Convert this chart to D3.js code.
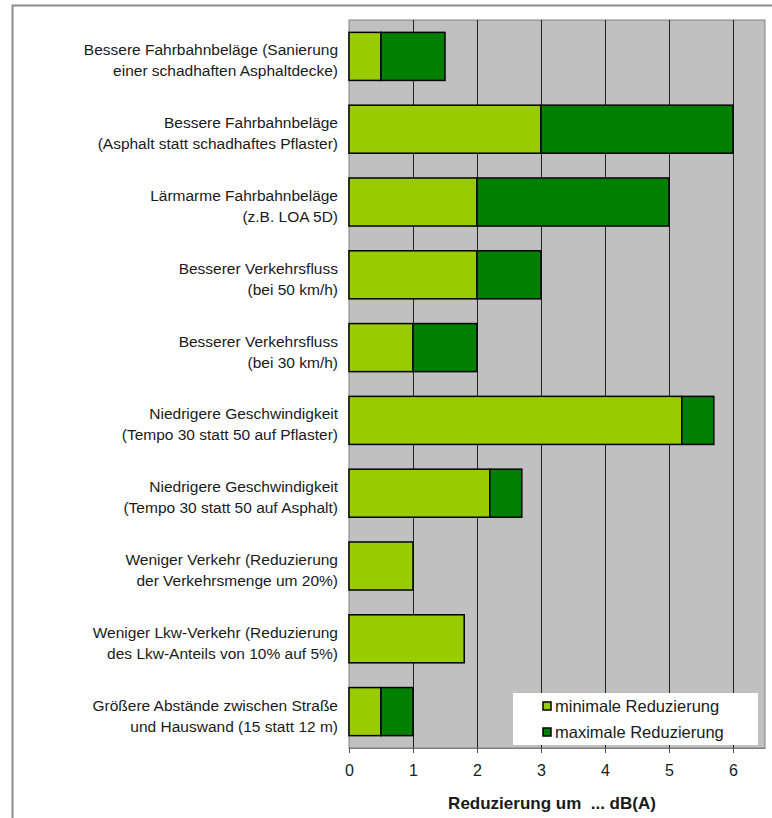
<!DOCTYPE html>
<html>
<head>
<meta charset="utf-8">
<script src="https://cdn.jsdelivr.net/npm/d3@7"></script>
<style>
  body { margin: 0; background: #fff; }
  text { font-family: "Liberation Sans", Arial, sans-serif; white-space: pre; }
</style>
</head>
<body>
<div id="chart"></div>
<script>
// category labels (two lines each)
const categories = [
    ["Bessere Fahrbahnbeläge (Sanierung", "einer schadhaften Asphaltdecke)"],
    ["Bessere Fahrbahnbeläge", "(Asphalt statt schadhaftes Pflaster)"],
    ["Lärmarme Fahrbahnbeläge", "(z.B. LOA 5D)"],
    ["Besserer Verkehrsfluss", "(bei 50 km/h)"],
    ["Besserer Verkehrsfluss", "(bei 30 km/h)"],
    ["Niedrigere Geschwindigkeit", "(Tempo 30 statt 50 auf Pflaster)"],
    ["Niedrigere Geschwindigkeit", "(Tempo 30 statt 50 auf Asphalt)"],
    ["Weniger Verkehr (Reduzierung", "der Verkehrsmenge um 20%)"],
    ["Weniger Lkw-Verkehr (Reduzierung", "des Lkw-Anteils von 10% auf 5%)"],
    ["Größere Abstände zwischen Straße", "und Hauswand (15 statt 12 m)"]
];
const minReduction = [0.5, 3, 2, 2, 1, 5.2, 2.2, 1, 1.8, 0.5];
const maxReduction = [1.5, 6, 5, 3, 2, 5.7, 2.7, 1, 1.8, 1];
const xTicks = [0, 1, 2, 3, 4, 5, 6];
const seriesNames = ["minimale Reduzierung", "maximale Reduzierung"];
const seriesColors = ["#99cc00", "#008000"];

const W = 772, H = 818;
const plot = { left: 349, right: 765, top: 20, bottom: 748 };

const svg = d3.select("#chart").append("svg")
    .attr("width", W).attr("height", H);

// outer frame
svg.append("path")
    .attr("d", `M12.5,${H} L12.5,5.5 L${W},5.5`)
    .attr("fill", "none").attr("stroke", "#8c8c8c").attr("stroke-width", 2);

const x = d3.scaleLinear().domain([0, 6.5]).range([plot.left, plot.right]);
const y = d3.scaleBand()
    .domain(d3.range(categories.length))
    .range([plot.top, plot.bottom])
    .paddingInner(0.34).paddingOuter(0.17);

// plot background
svg.append("rect")
    .attr("x", plot.left).attr("y", plot.top)
    .attr("width", plot.right - plot.left).attr("height", plot.bottom - plot.top)
    .attr("fill", "#c0c0c0").attr("stroke", "#808080");

// gridlines
svg.append("g").selectAll("line")
    .data(xTicks.slice(1))
    .join("line")
    .attr("x1", d => x(d) + 0.5).attr("x2", d => x(d) + 0.5)
    .attr("y1", plot.top).attr("y2", plot.bottom)
    .attr("stroke", "#222").attr("stroke-width", 1);

// bars
const rows = svg.append("g").selectAll("g")
    .data(categories.map((c, i) => ({ i: i, min: minReduction[i], max: maxReduction[i] })))
    .join("g");

rows.append("rect")
    .attr("x", x(0))
    .attr("y", d => y(d.i))
    .attr("width", d => x(d.min) - x(0))
    .attr("height", y.bandwidth())
    .attr("fill", seriesColors[0])
    .attr("stroke", "#000").attr("stroke-width", 1.5);

rows.filter(d => d.max > d.min).append("rect")
    .attr("x", d => x(d.min))
    .attr("y", d => y(d.i))
    .attr("width", d => x(d.max) - x(d.min))
    .attr("height", y.bandwidth())
    .attr("fill", seriesColors[1])
    .attr("stroke", "#000").attr("stroke-width", 1.5);

// category labels
const labels = svg.append("g").selectAll("text")
    .data(categories)
    .join("text")
    .attr("text-anchor", "end")
    .attr("font-size", "15.5px")
    .attr("fill", "#1a1a1a");
labels.each(function(d, i) {
    const cy = y(i) + y.bandwidth() / 2;
    d3.select(this).selectAll("tspan")
        .data(d)
        .join("tspan")
        .attr("x", 338)
        .attr("y", (t, j) => cy - 1 + j * 21)
        .text(t => t);
});

// x axis
const axis = svg.append("g")
    .attr("transform", `translate(0,${plot.bottom})`)
    .call(d3.axisBottom(x).tickValues(xTicks).tickSize(5).tickSizeOuter(0).tickFormat(d3.format("d")));
axis.select(".domain").attr("stroke", "#808080");
axis.selectAll(".tick line").attr("stroke", "#555");
axis.selectAll(".tick text")
    .attr("font-size", "16px")
    .attr("font-family", "'Liberation Sans', Arial, sans-serif")
    .attr("fill", "#1a1a1a")
    .attr("y", 28)
    .attr("dy", "0");

svg.append("text")
    .attr("x", 552).attr("y", 809)
    .attr("text-anchor", "middle")
    .attr("font-size", "17px")
    .attr("font-weight", "bold")
    .attr("fill", "#1a1a1a")
    .text("Reduzierung um  ... dB(A)");

// legend
const legend = svg.append("g").attr("transform", "translate(513,693)");
legend.append("rect")
    .attr("width", 245).attr("height", 52)
    .attr("fill", "#fff");
const items = legend.selectAll("g.item")
    .data(seriesNames)
    .join("g")
    .attr("class", "item")
    .attr("transform", (d, i) => `translate(30,${13 + i * 26})`);
items.append("rect")
    .attr("x", 0).attr("y", -4)
    .attr("width", 8).attr("height", 8)
    .attr("fill", (d, i) => seriesColors[i])
    .attr("stroke", "#000").attr("stroke-width", 1.5);
items.append("text")
    .attr("x", 12).attr("y", 6)
    .attr("font-size", "16.5px")
    .attr("fill", "#1a1a1a")
    .text(d => d);
</script>
</body>
</html>
